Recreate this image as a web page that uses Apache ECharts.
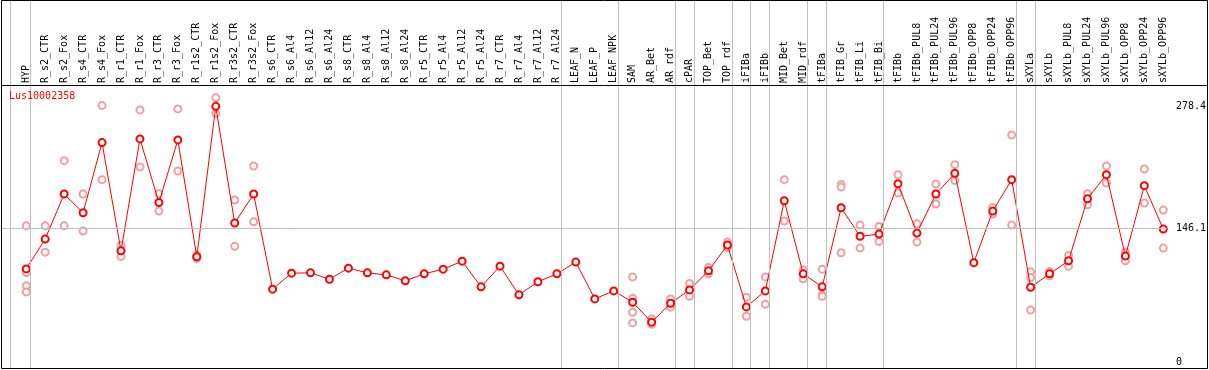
<!DOCTYPE html>
<html>
<head>
<meta charset="utf-8">
<script src="https://cdn.jsdelivr.net/npm/echarts@6/dist/echarts.min.js"></script>
<style>
  html, body { margin: 0; padding: 0; background: #fff; }
  #chart { width: 1209px; height: 370px; }
</style>
</head>
<body>
<div id="chart"></div>
<script>
// tissues / conditions, in plot order
const categories = [
  "HYP", "R_s2_CTR", "R_s2_Fox", "R_s4_CTR", "R_s4_Fox", "R_r1_CTR", "R_r1_Fox",
  "R_r3_CTR", "R_r3_Fox", "R_r1s2_CTR", "R_r1s2_Fox", "R_r3s2_CTR", "R_r3s2_Fox",
  "R_s6_CTR", "R_s6_Al4", "R_s6_Al12", "R_s6_Al24", "R_s8_CTR", "R_s8_Al4",
  "R_s8_Al12", "R_s8_Al24", "R_r5_CTR", "R_r5_Al4", "R_r5_Al12", "R_r5_Al24",
  "R_r7_CTR", "R_r7_Al4", "R_r7_Al12", "R_r7_Al24", "LEAF_N", "LEAF_P", "LEAF_NPK",
  "SAM", "AR_Bet", "AR_rdf", "cPAR", "TOP_Bet", "TOP_rdf", "iFIBa", "iFIBb",
  "MID_Bet", "MID_rdf", "tFIBa", "tFIB_Gr", "tFIB_Li", "tFIB_Bi", "tFIBb",
  "tFIBb_PUL8", "tFIBb_PUL24", "tFIBb_PUL96", "tFIBb_OPP8", "tFIBb_OPP24", "tFIBb_OPP96",
  "sXYLa", "sXYLb", "sXYLb_PUL8", "sXYLb_PUL24", "sXYLb_PUL96", "sXYLb_OPP8",
  "sXYLb_OPP24", "sXYLb_OPP96"
];

// mean expression per category
const means = [
  101.8, 134.2, 183.1, 162.8, 239.0, 121.4, 243.0, 173.9, 241.9, 114.9, 278.4, 151.6, 183.1,
  79.8, 97.2, 97.5, 90.6, 102.6, 97.5, 95.3, 88.9, 96.4, 101.5, 110.2, 82.3,
  104.8, 73.6, 87.8, 96.4, 109.2, 69.2, 77.9,
  65.6, 43.9, 64.5, 79.0, 99.7, 127.7, 60.5, 77.9,
  175.8, 96.4, 82.3, 168.2, 137.2, 139.6, 194.3,
  140.7, 183.1, 205.6, 108.6, 164.6, 198.7,
  81.9, 96.4, 110.6, 178.0, 204.2, 115.7, 192.2, 145.0
];

// individual replicate values (empty = not visible)
const replicates = [
  [148.6, 97.8, 83.4, 76.8], [148.6, 120.0], [219.4, 148.6], [183.1, 142.9], [279.2, 198.7],
  [127.2, 115.2], [274.5, 212.5], [183.5, 164.6], [275.6, 208.2], [117.0, 115.0, 113.0],
  [287.6, 270.5], [176.6, 126.3], [213.6, 153.0],
  [], [], [], [], [], [], [], [], [], [], [], [],
  [], [], [], [], [], [], [],
  [93.1, 70.0, 54.7, 43.1], [47.4, 43.5, 41.7], [69.2, 60.2], [85.9, 72.1], [103.3, 96.4],
  [131.0, 125.0], [71.1, 50.4], [93.1, 63.4],
  [198.7, 153.8], [100.8, 91.0], [101.5, 73.6, 72.1], [193.5, 190.8, 119.3], [149.4, 124.4],
  [147.9, 131.6], [204.1, 184.2],
  [150.8, 130.9], [194.0, 172.3], [215.0, 197.9], [], [168.6, 161.4], [247.3, 149.4],
  [98.6, 92.4, 57.2], [98.9, 94.2], [116.3, 104.8], [183.5, 171.5], [213.6, 195.1],
  [120.0, 110.6], [210.3, 173.3], [165.7, 124.4]
];

// y tick labels and reference line
const yTicks = [0, 146.1, 278.4];
const refLine = 146.1;

// group separators, in category-index units
const groupEnds = [0.23, 28.23, 31.23, 34.23, 35.23, 37.23, 38.23, 39.23, 41.23, 42.23, 45.23, 52.23, 53.23, 60.2];

const mono = "DejaVu Sans Mono";

let repPoints = [];
replicates.forEach(function (vals, i) {
  vals.forEach(function (v) {
    repPoints.push([i, v]);
  });
});

let meanPoints = means.map(function (v, i) {
  return [i, v];
});

let myChart = echarts.init(document.getElementById("chart"));
let option = {
  animation: false,
  backgroundColor: "#fff",
  grid: {
    left: 1,
    right: 39,
    top: 0,
    bottom: 1
  },
  xAxis: {
    type: "value",
    position: "top",
    offset: -85,
    min: -1.332,
    max: 60.19,
    axisLine: { show: false },
    axisTick: { show: false },
    splitLine: { show: false },
    axisLabel: {
      customValues: categories.map(function (c, i) { return i; }),
      formatter: function (v) {
        return categories[Math.round(v)] || "";
      },
      rotate: 90,
      margin: 2,
      color: "#000",
      fontFamily: mono,
      fontSize: 10
    }
  },
  yAxis: {
    type: "value",
    position: "right",
    min: -6.95,
    max: 393.9,
    axisLine: { show: false },
    axisTick: { show: false },
    splitLine: { show: false },
    axisLabel: {
      customValues: yTicks,
      margin: 9,
      color: "#000",
      fontFamily: mono,
      fontSize: 10
    }
  },
  graphic: {
    elements: [
      {
        type: "rect",
        shape: { x: 1.5, y: 0.5, width: 1206, height: 368 },
        style: { fill: null, stroke: "#000", lineWidth: 1 },
        z: 100
      },
      {
        type: "line",
        shape: { x1: 1, y1: 85.5, x2: 1208, y2: 85.5 },
        style: { stroke: "#000", lineWidth: 1 },
        z: 100
      },
      {
        type: "text",
        left: 9,
        top: 91,
        style: {
          text: "Lus10002358",
          fill: "#ff0000",
          font: "10px " + mono
        },
        z: 101
      },
      {
        type: "rect",
        left: 10,
        top: 1,
        shape: { x: 0, y: 0, width: 1, height: 368 },
        style: { fill: "#c0c0c0" },
        z: 99
      }
    ]
  },
  series: [
    {
      name: "separators",
      type: "line",
      data: [],
      silent: true,
      markLine: {
        silent: true,
        symbol: "none",
        label: { show: false },
        lineStyle: { color: "#c0c0c0", width: 1, type: "solid" },
        data: groupEnds.map(function (g) {
          return { xAxis: g };
        }).concat([{ yAxis: refLine }])
      }
    },
    {
      name: "replicates",
      type: "scatter",
      data: repPoints,
      symbol: "emptyCircle",
      symbolSize: 7,
      itemStyle: {
        color: "#f0a0a0",
        borderWidth: 1.3,
        opacity: 1
      },
      z: 2
    },
    {
      name: "mean",
      type: "line",
      data: meanPoints,
      symbol: "emptyCircle",
      symbolSize: 7,
      showAllSymbol: true,
      color: "#ff0000",
      lineStyle: { color: "#ff0000", width: 1 },
      itemStyle: {
        color: "#ff0000",
        borderWidth: 1.6
      },
      z: 3
    }
  ]
};
myChart.setOption(option);
window.onresize = function () {
  myChart.resize();
};
</script>
</body>
</html>
